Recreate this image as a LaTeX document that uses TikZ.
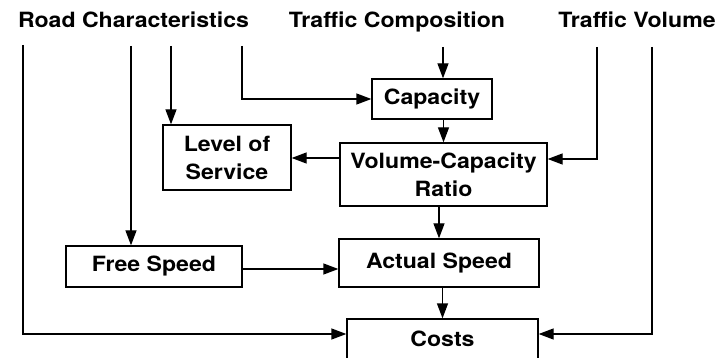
\documentclass[tikz,border=0pt]{standalone}
\usepackage{fontspec}
\setmainfont[FakeStretch=1.1]{TeX Gyre Heros}
\usetikzlibrary{arrows.meta,calc}
\begin{document}
\begin{tikzpicture}[x=1pt,y=-1pt,
  every node/.style={font=\fontsize{21}{28}\selectfont\bfseries},
  box/.style={draw,line width=1.3pt,inner sep=0pt,align=center},
  title/.style={anchor=base,inner sep=0pt},
  arr/.style={line width=1.3pt,-{Triangle[length=15pt,width=11pt]}},
  ln/.style={line width=1.3pt}]
\useasboundingbox (0,0) rectangle (723,358);
\clip (0,0) rectangle (723,358);
% titles
\node[title] (rc) at (133.5,28) {Road Characteristics};
\node[title] (tc) at (397,28) {Traffic Composition};
\node[title] (tv) at (637,28) {Traffic Volume};
% boxes
\node[box,minimum width=120pt,minimum height=40pt] (cap) at (432,99) {Capacity};
\node[box,minimum width=207pt,minimum height=63pt] (vcr) at (443.5,174.5) {Volume-Capacity\\Ratio};
\node[box,minimum width=128pt,minimum height=65pt] (los) at (227,157.5) {Level of\\Service};
\node[box,minimum width=176pt,minimum height=41pt] (free) at (154,266.5) {Free Speed};
\node[box,minimum width=200pt,minimum height=48pt] (act) at (439,263) {Actual Speed};
\node[box,minimum width=191pt,minimum height=40pt] (costs) at (442.5,339) {Costs};
% line starts
\coordinate (r1) at (23,45);
\coordinate (r2) at (131,46);
\coordinate (r3) at (171,46);
\coordinate (r4) at (242,46);
\coordinate (c1) at (443,47);
\coordinate (v1) at (597,47);
\coordinate (v2) at (652,47);
\coordinate (ybot) at (0,334);
\coordinate (ylos) at (0,158);
\coordinate (yvcr) at (0,159);
\coordinate (yfree) at (0,269);
% connectors
\draw[arr] (r1) |- (costs.west |- ybot);
\draw[arr] (r2) -- (r2 |- free.north);
\draw[arr] (r3) -- (r3 |- los.north);
\draw[arr] (r4) |- (cap.west);
\draw[arr] (c1) -- (c1 |- cap.north);
\draw[arr] (cap.south -| vcr.north) -- (vcr.north);
\draw[arr] (vcr.west |- ylos) -- (los.east |- ylos);
\draw[arr] (v1) |- (vcr.east |- yvcr);
\draw[arr] (v2) |- (costs.east |- ybot);
\draw[arr] (vcr.south -| act.north) -- (act.north);
\draw[arr] (free.east |- yfree) -- (act.west |- yfree);
\draw[arr] (act.south -| costs.north) -- (costs.north);
\end{tikzpicture}
\end{document}
